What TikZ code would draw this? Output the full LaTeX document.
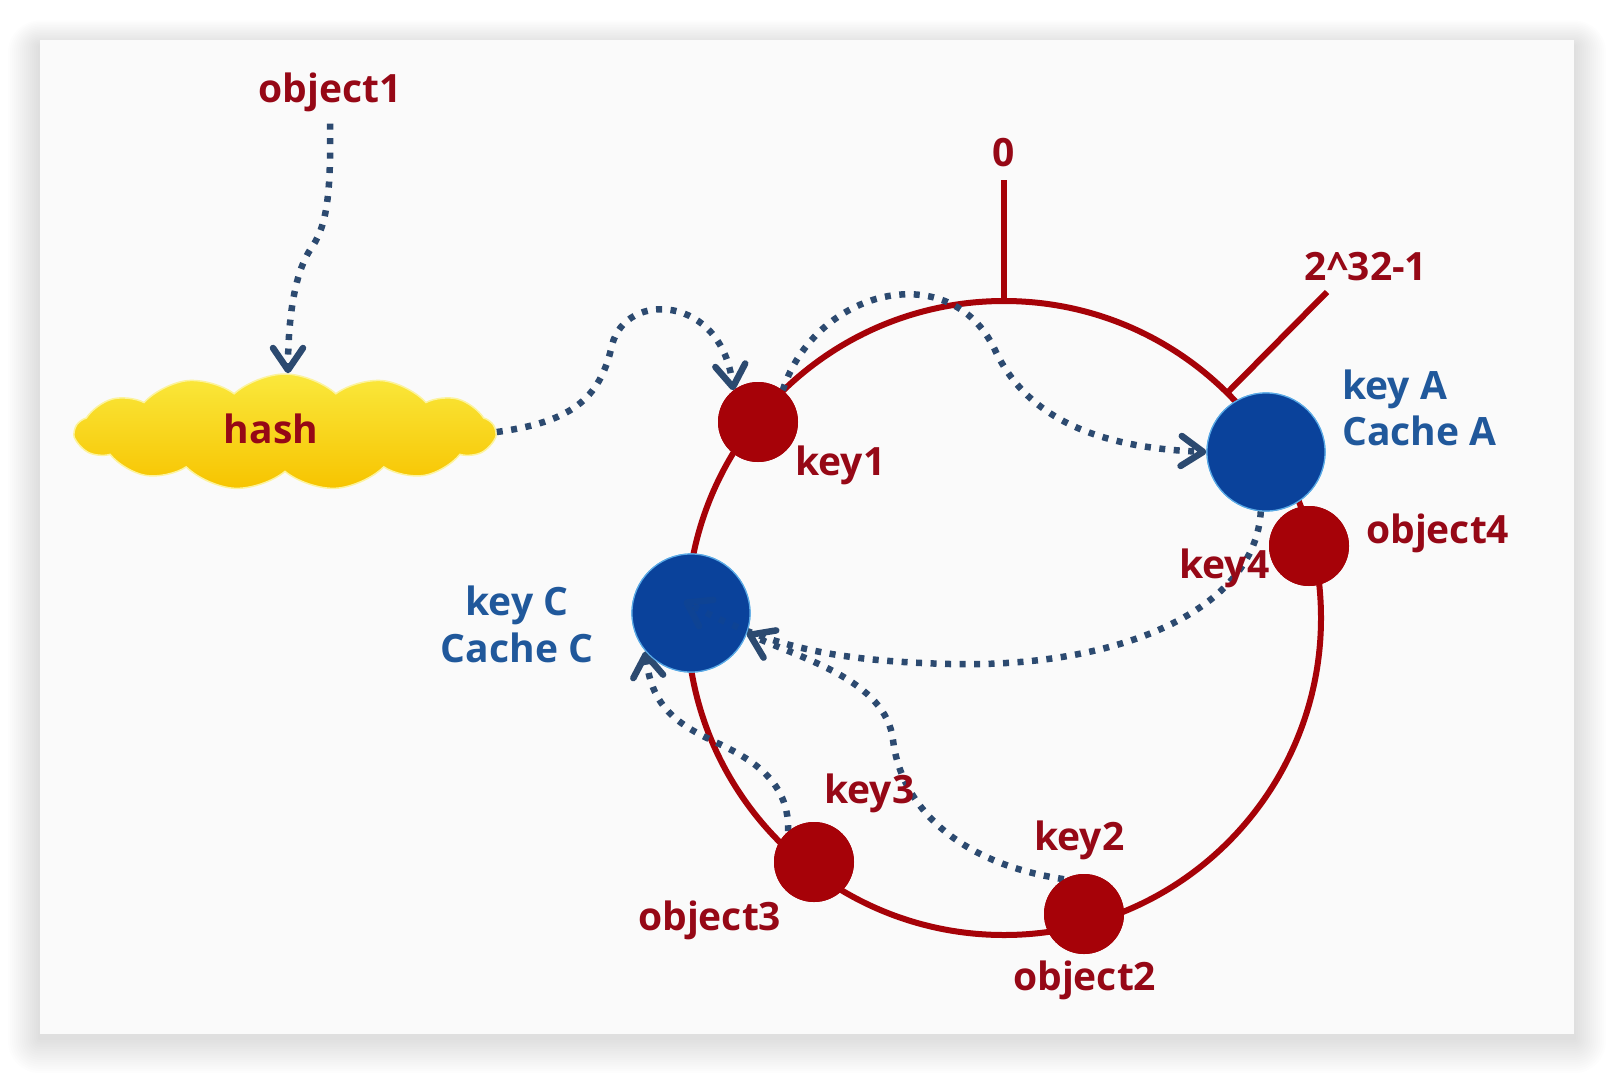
\documentclass[tikz,border=0pt]{standalone}
\usepackage{fontspec}
\setmainfont{Open Sans}
\usetikzlibrary{arrows.meta,shapes.symbols}
\definecolor{cred}{RGB}{166,2,8}
\definecolor{ctred}{RGB}{150,8,22}
\definecolor{cblue}{RGB}{10,66,155}
\definecolor{cbtext}{RGB}{32,88,155}
\definecolor{cedge}{RGB}{90,170,230}
\definecolor{cdot}{RGB}{44,74,112}
\definecolor{cpanel}{RGB}{250,250,250}
\definecolor{cyel1}{RGB}{250,232,60}
\definecolor{cyel2}{RGB}{247,196,0}
\tikzset{
  lbl/.style={font=\fontsize{39}{46}\selectfont\bfseries, inner sep=0pt},
  redlbl/.style={lbl, text=ctred},
  bluelbl/.style={lbl, text=cbtext},
  redball/.style={circle, fill=cred, minimum size=80pt, inner sep=0pt},
  blueball/.style={circle, fill=cblue, draw=cedge, line width=1.2pt, minimum size=118pt, inner sep=0pt},
  ringline/.style={draw=cred, line width=6pt},
  dotline/.style={draw=cdot, line width=6.5pt, dash pattern=on 6pt off 8.5pt},
  dotarrow/.style={dotline, -{Straight Barb[length=22pt,width=30pt,line width=6.5pt,round]}}
}
\begin{document}
\begin{tikzpicture}[x=1pt,y=-1pt]
\useasboundingbox (0,0) rectangle (1614,1074);
\fill[white] (0,0) rectangle (1614,1074);
% soft shadow
\foreach \i in {1,...,16}{
  \fill[black, opacity=0.008, rounded corners=\i*2pt] (40-\i*2,40-\i*1.6+6) rectangle (1574+\i*2,1034+\i*2.2+4);
}
\fill[cpanel] (40,40) rectangle (1574,1034);

% ring and ticks
\draw[ringline] (1004,618) circle[radius=317];
\coordinate (top) at (1004,301);
\coordinate (topend) at (1004,180);
\draw[ringline] (top) -- (topend);
\coordinate (maxp) at (1228,392);
\coordinate (maxend) at (1327,292);
\draw[ringline] (maxp) -- (maxend);
\node[redlbl, anchor=base] (zero) at (1004,166) {0};
\node[redlbl, anchor=base] (max) at (1366,280) {2\textasciicircum32-1};

% cloud
\node[cloud, cloud puffs=13, cloud puff arc=85, aspect=3.8, minimum width=420pt, minimum height=116pt, inner sep=0pt,
      top color=cyel1, bottom color=cyel2, draw=cyel1!50!white, line width=1.5pt] (hash) at (285,432) {};
\node[redlbl, anchor=base] (hashtxt) at (271,443) {hash};

% ring nodes (positions)
\node[redball] (k1) at (758,422) {};
\node[blueball] (kA) at (1266,452) {};
\node[redball] (o4) at (1309,546) {};
\node[blueball] (kC) at (691,613) {};
\node[redball] (o3) at (814,862) {};
\node[redball] (o2) at (1084,914) {};
\coordinate (ghost) at (684,601);

\node[redlbl, anchor=base, inner sep=4pt] (o1) at (330,102) {object1};

% connectors
\draw[dotarrow, shorten <=8pt] (o1.south) .. controls (331,200) and (326,228) .. (310,250)
      .. controls (292,278) and (288,330) .. (hash.north -| 288,0);
\draw[dotarrow] (hash.east) .. controls (570,422) and (600,400) .. (612,345)
      .. controls (626,290) and (722,295) .. (k1.128);
\draw[dotarrow] (k1.52) .. controls (815,290) and (950,255) .. (995,350)
      .. controls (1030,425) and (1110,448) .. (kA.west);
\def\kfourpath{(kA.265) .. controls (1255,610) and (1120,668) .. (950,664)
      .. controls (830,661) and (765,645) .. (ghost)}
\draw[dotarrow] \kfourpath;
\draw[dotarrow] (o2.120) .. controls (950,862) and (900,800) .. (893,740)
      .. controls (886,680) and (800,658) .. (kC.-20);
\draw[dotarrow] (o3.130) .. controls (790,772) and (735,752) .. (705,737)
      .. controls (662,716) and (650,692) .. (kC.-140);

% balls on top
\node[redball] at (k1) {};
\node[blueball] at (kA) {};
\node[redball] at (o4) {};
\node[blueball] at (kC) {};
\node[redball] at (o3) {};
\node[redball] at (o2) {};
\begin{scope}
  \clip (691,613) circle[radius=58];
  \draw[dotarrow, opacity=0.14] \kfourpath;
\end{scope}

% labels
\node[redlbl, anchor=base west] (lk1) at (795,475) {key1};
\node[bluelbl, anchor=base west] (lkA) at (1342,399) {key A};
\node[bluelbl, anchor=base west] (lcA) at (1342,445) {Cache A};
\node[redlbl, anchor=base west] (lo4) at (1366,543) {object4};
\node[redlbl, anchor=base west] (lk4) at (1179,578) {key4};
\node[bluelbl, anchor=base] (lkC) at (517,615) {key C};
\node[bluelbl, anchor=base] (lcC) at (517,662) {Cache C};
\node[redlbl, anchor=base west] (lk3) at (824,803) {key3};
\node[redlbl, anchor=base west] (lk2) at (1034,850) {key2};
\node[redlbl, anchor=base west] (lo3) at (638,930) {object3};
\node[redlbl, anchor=base west] (lo2) at (1013,990) {object2};
\end{tikzpicture}
\end{document}
